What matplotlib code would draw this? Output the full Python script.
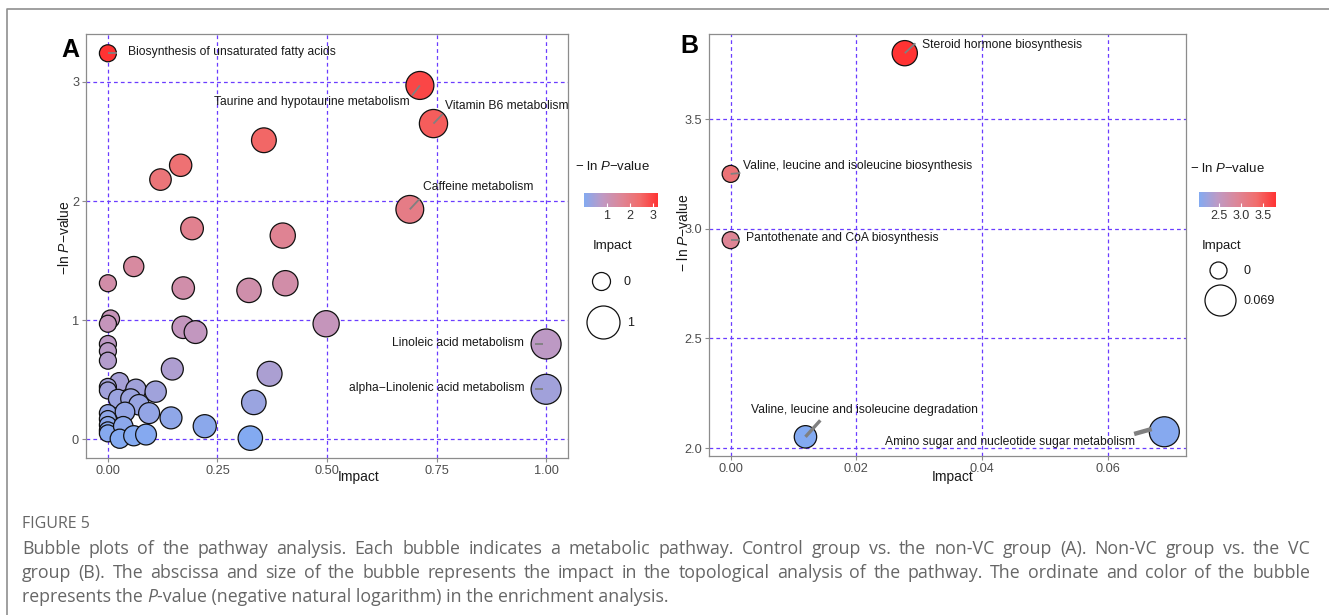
import numpy as np
import matplotlib
matplotlib.use('Agg')
import matplotlib.pyplot as plt
from matplotlib.colors import LinearSegmentedColormap, Normalize
from matplotlib.cm import ScalarMappable

plt.rcParams['font.family'] = ['Liberation Sans', 'DejaVu Sans']
plt.rcParams['mathtext.fontset'] = 'custom'
plt.rcParams['mathtext.it'] = 'Liberation Sans:italic'
plt.rcParams['mathtext.rm'] = 'Liberation Sans'

# ---- data: panel A (control vs non-VC) ----
a_impact = [0, 0.712, 0.743, 0.356, 0.166, 0.120, 0.689, 0.192, 0.399, 0.059,
            0, 0.172, 0.322, 0.405, 0.006, 0, 0.172, 0.200, 0.498, 0,
            0, 0, 1.0, 1.0, 0.147, 0.369, 0.026, 0, 0, 0.064,
            0.109, 0.023, 0.052, 0.071, 0.333, 0, 0.039, 0.094, 0.144, 0,
            0, 0, 0, 0.035, 0.221, 0.027, 0.059, 0.087, 0.325]
a_logp = [3.24, 2.97, 2.65, 2.51, 2.30, 2.18, 1.93, 1.77, 1.71, 1.45,
          1.31, 1.27, 1.25, 1.31, 1.01, 0.97, 0.94, 0.90, 0.97, 0.80,
          0.74, 0.66, 0.80, 0.42, 0.59, 0.55, 0.48, 0.44, 0.41, 0.42,
          0.40, 0.34, 0.34, 0.29, 0.31, 0.22, 0.23, 0.22, 0.18, 0.17,
          0.12, 0.075, 0.05, 0.11, 0.11, 0.005, 0.03, 0.04, 0.01]
a_names = {0: 'Biosynthesis of unsaturated fatty acids',
           1: 'Taurine and hypotaurine metabolism',
           2: 'Vitamin B6 metabolism',
           6: 'Caffeine metabolism',
           22: 'Linoleic acid metabolism',
           23: 'alpha\u2212Linolenic acid metabolism'}
a_xticks = [0, 0.25, 0.5, 0.75, 1.0]
a_xticklabels = ['0.00', '0.25', '0.50', '0.75', '1.00']
a_yticks = [0, 1, 2, 3]
a_cbar_ticks = [1, 2, 3]
a_size_breaks = [0, 1]

# ---- data: panel B (non-VC vs VC) ----
b_impact = [0.0277, 0, 0, 0.0119, 0.069]
b_logp = [3.80, 3.25, 2.948, 2.052, 2.075]
b_names = {0: 'Steroid hormone biosynthesis',
           1: 'Valine, leucine and isoleucine biosynthesis',
           2: 'Pantothenate and CoA biosynthesis',
           3: 'Valine, leucine and isoleucine degradation',
           4: 'Amino sugar and nucleotide sugar metabolism'}
b_xticks = [0, 0.02, 0.04, 0.06]
b_xticklabels = ['0.00', '0.02', '0.04', '0.06']
b_yticks = [2.0, 2.5, 3.0, 3.5]
b_cbar_ticks = [2.5, 3.0, 3.5]
b_size_breaks = [0, 0.069]

# label placement: text x, text y, align, segment (x0, y0, x1, y1), segment width
a_place = {0: (0.046, 3.25, 'left', (0.0, 3.24, 0.020, 3.24), 1.3),
           1: (0.688, 2.83, 'right', (0.712, 2.97, 0.694, 2.885), 1.3),
           2: (0.770, 2.80, 'left', (0.743, 2.65, 0.764, 2.73), 1.3),
           6: (0.718, 2.12, 'left', (0.689, 1.93, 0.711, 2.017), 1.3),
           22: (0.950, 0.81, 'right', (0.975, 0.80, 0.992, 0.80), 1.3),
           23: (0.950, 0.43, 'right', (0.975, 0.42, 0.992, 0.42), 1.3)}
b_place = {0: (0.0304, 3.838, 'left', (0.0277, 3.80, 0.0294, 3.845), 1.3),
           1: (0.00196, 3.288, 'left', (0.0, 3.25, 0.00154, 3.254), 1.3),
           2: (0.00245, 2.957, 'left', (0.0, 2.948, 0.00154, 2.948), 1.3),
           3: (0.0032, 2.175, 'left', (0.0119, 2.052, 0.01426, 2.127), 2.4),
           4: (0.0644, 2.027, 'right', (0.0642, 2.065, 0.0670, 2.0875), 3.2)}

W, H = 1329, 615
fig = plt.figure(figsize=(W / 100, H / 100), dpi=100)

# overlay in pixel coords for frame, legends, caption
over = fig.add_axes([0, 0, 1, 1])
over.set_xlim(0, W)
over.set_ylim(H, 0)
over.axis('off')


def px_axes(l, t, r, b):
    return fig.add_axes([l / W, 1 - b / H, (r - l) / W, (b - t) / H])


def ptext(x, y, s, **kw):
    return fig.text(x / W, 1 - y / H, s, **kw)


cmap = LinearSegmentedColormap.from_list(
    'bubble', ['#83AAF1', '#BF99C3', '#DD8697', '#F16D6C', '#FF3333'])
GRID = '#6a3cff'
TICKC = '#4d4d4d'


def bubble_size(impact, imax, dmin, dmax):
    d = dmin + (dmax - dmin) * np.sqrt(np.asarray(impact, float) / imax)
    return (d * 0.72) ** 2


def draw_panel(box, impact, logp, names, place, xticks, xticklabels, yticks,
               yticklabels, xlab_pos, ylab_pos, ylab):
    ax = px_axes(*box)
    imax = max(impact)
    lo, hi = min(logp), max(logp)
    norm = Normalize(lo, hi)
    ax.scatter(impact, logp, s=bubble_size(impact, imax, 17, 30), c=logp,
               cmap=cmap, norm=norm, edgecolors='#111111', linewidths=0.9,
               zorder=3)
    xr = imax
    yr = hi - lo
    ax.set_xlim(-0.05 * xr, imax + 0.05 * xr)
    ax.set_ylim(lo - 0.05 * yr, hi + 0.05 * yr)
    ax.set_xticks(xticks)
    ax.set_xticklabels(xticklabels)
    ax.set_yticks(yticks)
    ax.set_yticklabels(yticklabels)
    ax.set_axisbelow(True)
    ax.grid(True, color=GRID, ls=(0, (3, 2.5)), lw=0.9)
    for sp in ax.spines.values():
        sp.set_color('#8c8c8c')
        sp.set_linewidth(0.9)
    ax.tick_params(length=3, color='#8c8c8c', labelsize=9.2,
                   labelcolor=TICKC, pad=2)
    for i, name in names.items():
        tx, ty, ha, seg, lw = place[i]
        ax.text(tx, ty, name, ha=ha, va='center', fontsize=8.75,
                color='#1a1a1a', zorder=5)
        ax.plot([seg[0], seg[2]], [seg[1], seg[3]], color='#808080', lw=lw,
                solid_capstyle='butt', zorder=4)
    ax.set_xlabel('Impact', fontsize=10, color='#1a1a1a')
    ax.xaxis.set_label_coords(*xlab_pos)
    ax.set_ylabel(ylab, fontsize=10, color='#1a1a1a')
    ax.yaxis.set_label_coords(*ylab_pos)
    return ax, norm, imax


def draw_legend(norm, imax, cbox, cticks, ctlabels, title_xy, imp_xy,
                circles, breaks, blabels, dmin, dmax):
    ptext(title_xy[0], title_xy[1], '\u2212 ln $\\it{P}$\u2212value',
          fontsize=9.5, color='#1a1a1a', va='center')
    cax = px_axes(*cbox)
    cb = fig.colorbar(ScalarMappable(norm=norm, cmap=cmap), cax=cax,
                      orientation='horizontal', ticks=cticks)
    cb.outline.set_visible(False)
    cax.set_xticklabels(ctlabels)
    cax.tick_params(length=3, color='white', direction='in', width=0.8,
                    labelsize=9, labelcolor='#333333', pad=2)
    ptext(imp_xy[0], imp_xy[1], 'Impact', fontsize=9.5, color='#1a1a1a',
          va='center')
    for (cx, cy, lx), b, lab in zip(circles, breaks, blabels):
        over.scatter([cx], [cy], s=bubble_size([b], imax, dmin, dmax),
                     facecolors='white', edgecolors='#111111', linewidths=0.9)
        ptext(lx, cy + 1, lab, fontsize=9, color='#1a1a1a', va='center')


axA, normA, imaxA = draw_panel((86, 34, 568, 458), a_impact, a_logp, a_names,
                               a_place, a_xticks, a_xticklabels, a_yticks,
                               [str(v) for v in a_yticks],
                               (0.566, -0.028), (-0.029, 0.52),
                               '\u2212ln $\\it{P}$\u2212value')
draw_legend(normA, imaxA, (584, 193, 658, 207), a_cbar_ticks,
            [str(v) for v in a_cbar_ticks], (575, 166), (593, 246),
            [(601, 281, 624), (603, 322, 627)], a_size_breaks, ['0', '1'],
            18, 33)

axB, normB, imaxB = draw_panel((709, 34, 1186, 456), b_impact, b_logp,
                               b_names, b_place, b_xticks, b_xticklabels,
                               b_yticks, ['%.1f' % v for v in b_yticks],
                               (0.511, -0.033), (-0.038, 0.528),
                               '\u2212 ln $\\it{P}$\u2212value')
draw_legend(normB, imaxB, (1199, 192, 1276, 207), b_cbar_ticks,
            ['%.1f' % v for v in b_cbar_ticks], (1190, 168), (1202, 246),
            [(1218, 270, 1243), (1220, 300, 1244)], b_size_breaks,
            ['0', '0.069'], 17, 31)

# panel letters
ptext(70, 50, 'A', fontsize=18, fontweight='bold', ha='center', va='center')
ptext(689, 46, 'B', fontsize=18, fontweight='bold', ha='center', va='center')

# outer frame (top and left edges)
over.plot([7, 7, W], [H, 9, 9], color='#8f8f8f', lw=1.2, clip_on=False)

# caption
cap = dict(family=['Open Sans', 'DejaVu Sans'], color='#666666', va='center')
CAP_FS = 12.8


def justify(x0, x1, y, line):
    words = [ptext(x0, y, w, fontsize=CAP_FS, **cap) for w in line.split()]
    r = fig.canvas.get_renderer()
    widths = [t.get_window_extent(r).width for t in words]
    gap = (x1 - x0 - sum(widths)) / (len(words) - 1)
    x = x0
    for t, w in zip(words, widths):
        t.set_x(x / W)
        x += w + gap


ptext(22, 524, 'FIGURE 5', fontsize=11.5, **cap)
justify(22, 1310, 549, 'Bubble plots of the pathway analysis. Each bubble '
        'indicates a metabolic pathway. Control group vs. the non-VC group '
        '(A). Non-VC group vs. the VC')
justify(22, 1310, 573, 'group (B). The abscissa and size of the bubble '
        'represents the impact in the topological analysis of the pathway. '
        'The ordinate and color of the bubble')
t1 = ptext(22, 597, 'represents the ', fontsize=CAP_FS, **cap)
t2 = over.annotate('P', xy=(1, 0), xycoords=t1, va='bottom', fontsize=CAP_FS,
                   family=['Open Sans', 'DejaVu Sans'], style='italic',
                   color='#666666')
over.annotate('-value (negative natural logarithm) in the enrichment '
              'analysis.', xy=(1, 0), xycoords=t2, va='bottom',
              fontsize=CAP_FS, family=['Open Sans', 'DejaVu Sans'],
              color='#666666')

fig.savefig('out.png', dpi=100)
